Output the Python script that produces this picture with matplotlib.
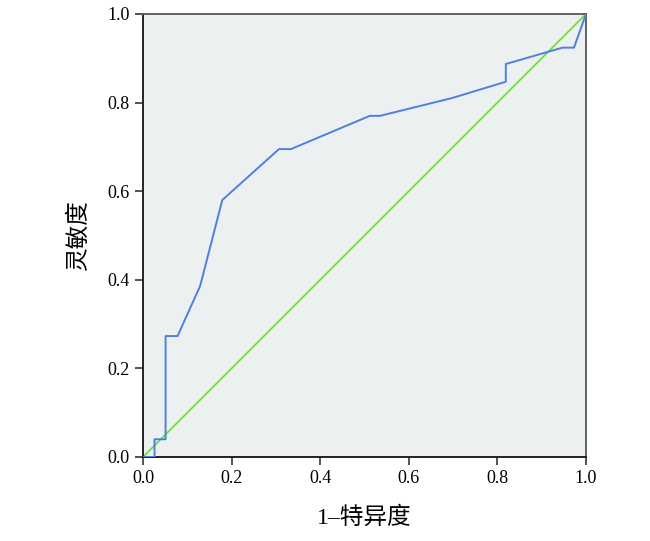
import matplotlib
matplotlib.use('Agg')
import matplotlib.pyplot as plt

plt.rcParams['font.family'] = ['Liberation Serif', 'Noto Sans CJK SC']

# ROC curve points
fpr = [0.0, 0.026, 0.026, 0.051, 0.051, 0.078, 0.129, 0.179,
       0.307, 0.334, 0.512, 0.535, 0.697, 0.819, 0.819, 0.947, 0.973, 1.0]
tpr = [0.0, 0.0, 0.040, 0.040, 0.273, 0.273, 0.386, 0.580,
       0.695, 0.695, 0.770, 0.770, 0.810, 0.847, 0.887, 0.924, 0.924, 1.0]
ref = [0.0, 1.0]
ticks = [0.0, 0.2, 0.4, 0.6, 0.8, 1.0]
tick_labels = ['0.0', '0.2', '0.4', '0.6', '0.8', '1.0']

fig = plt.figure(figsize=(6.5, 5.41), dpi=100)
ax = fig.add_axes([0.22, 0.1553, 0.6815, 0.8189])
ax.set_facecolor('#edf0f0')

ax.plot(ref, ref, color='#66e030', lw=1.2, zorder=2)
ax.plot(fpr, tpr, color='#4f7fe0', lw=1.4, zorder=3)

ax.set_xlim(0, 1)
ax.set_ylim(0, 1)
ax.set_xticks(ticks)
ax.set_xticklabels(tick_labels)
ax.set_yticks(ticks)
ax.set_yticklabels(tick_labels)
ax.tick_params(direction='out', length=6, width=1.2, labelsize=13, color='#333333')

for side in ['left', 'bottom']:
    ax.spines[side].set_color('#222222')
    ax.spines[side].set_linewidth(1.4)
for side in ['top', 'right']:
    ax.spines[side].set_color('#5a6466')
    ax.spines[side].set_linewidth(1.4)

ax.set_xlabel('1–特异度', fontsize=17, labelpad=14, fontweight='light')
ax.set_ylabel('灵敏度', fontsize=17, labelpad=13, fontweight='light')

fig.savefig('out.png', dpi=100)
